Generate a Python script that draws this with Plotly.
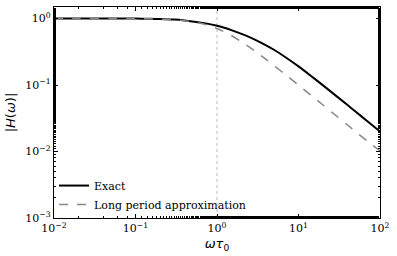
import plotly.graph_objects as go

omega = [0.01, 0.02, 0.05, 0.1, 0.15, 0.2, 0.3, 0.4, 0.5, 0.7, 1, 1.2, 1.5, 2, 2.5, 3, 4, 5, 7,
         10, 15, 20, 30, 40, 50, 70, 100]
exact = [1.0, 1.0, 0.999, 0.996, 0.99, 0.983, 0.963, 0.935, 0.905, 0.852, 0.779, 0.732, 0.668,
         0.586, 0.525, 0.474, 0.395, 0.339, 0.2595, 0.1905, 0.1303, 0.0988, 0.0663, 0.0499,
         0.0399, 0.0285, 0.0200]
approx = [1.0, 0.9998, 0.9988, 0.995, 0.989, 0.981, 0.958, 0.928, 0.894, 0.819, 0.707, 0.640,
          0.555, 0.447, 0.371, 0.316, 0.2425, 0.196, 0.1414, 0.0995, 0.0665, 0.0500, 0.0333,
          0.0250, 0.0200, 0.01428, 0.0102]

x_ticks = [0.01, 0.1, 1, 10, 100]
x_labels = ["10<sup>−2</sup>", "10<sup>−1</sup>", "10<sup>0</sup>", "10<sup>1</sup>", "10<sup>2</sup>"]
y_ticks = [0.001, 0.01, 0.1, 1]
y_labels = ["10<sup>−3</sup>", "10<sup>−2</sup>", "10<sup>−1</sup>", "10<sup>0</sup>"]

fig = go.Figure()
fig.add_trace(go.Scatter(x=omega, y=exact, mode="lines", name="Exact",
                         line=dict(color="black", width=2, shape="spline", smoothing=0.8)))
fig.add_trace(go.Scatter(x=omega, y=approx, mode="lines", name="Long period approximation",
                         line=dict(color="#888888", width=1.5, dash="dash", shape="spline",
                                   smoothing=0.8)))

fig.add_shape(type="line", xref="x", yref="paper", x0=1, x1=1, y0=0, y1=1,
              line=dict(color="#bbbbbb", width=1, dash="dot"), layer="below")

axis_common = dict(
    showline=True, linecolor="black", linewidth=1.2, mirror="allticks",
    ticks="inside", ticklen=4, tickwidth=1, tickcolor="black",
    showgrid=False, zeroline=False,
    tickfont=dict(family="DejaVu Serif", size=11, color="black"),
    minor=dict(ticks="inside", ticklen=2, tickwidth=0.8, tickcolor="black", showgrid=False),
)

fig.update_xaxes(type="log", range=[-2, 2], tickvals=x_ticks, ticktext=x_labels,
                 title=dict(text="<i>ωτ</i><sub>0</sub>",
                            font=dict(family="DejaVu Sans", size=13, color="black"),
                            standoff=4),
                 **axis_common)
fig.update_yaxes(type="log", range=[-3, 0.173], tickvals=y_ticks, ticktext=y_labels,
                 title=dict(text="|<i>H</i>(<i>ω</i>)|",
                            font=dict(family="DejaVu Sans", size=13, color="black"),
                            standoff=6),
                 **axis_common)

fig.update_layout(
    width=397, height=256,
    margin=dict(l=54, r=17, t=7, b=38),
    paper_bgcolor="white", plot_bgcolor="white",
    showlegend=True,
    hovermode=False,
    legend=dict(x=0.0, y=-0.005, xanchor="left", yanchor="bottom",
                bgcolor="rgba(0,0,0,0)", borderwidth=0,
                font=dict(family="DejaVu Serif", size=11, color="black"),
                tracegroupgap=0, itemwidth=30),
)

fig.write_html("out.html", config={"displayModeBar": False},
               post_script="document.body.style.margin='0';")
